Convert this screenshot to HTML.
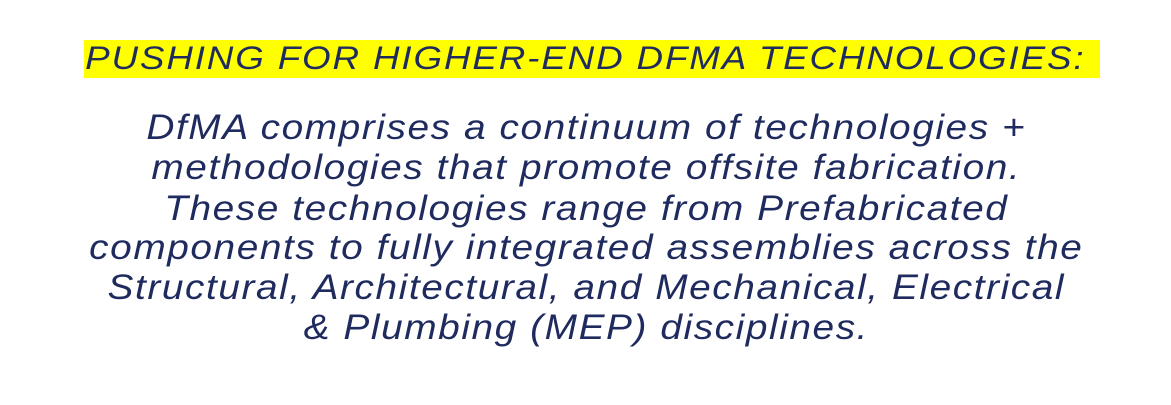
<!DOCTYPE html>
<html>
<head>
<meta charset="utf-8">
<style>
  html, body { margin:0; padding:0; background:#ffffff; }
  body { width:1171px; height:405px; position:relative; overflow:hidden;
         font-family:"Liberation Sans", sans-serif; color:#1f2b5e; }
  .hl { position:absolute; left:84px; top:40px; width:1016px; height:38px; background:#ffff00; }
  .title { position:absolute; left:0; width:1171px; top:38px; text-align:center;
           font-size:32px; font-style:italic; letter-spacing:1.6px; line-height:40px;
           transform:scaleX(1.15); transform-origin:587px 0; }
  .line { position:absolute; left:0; width:1171px; text-align:center;
          font-size:35px; font-style:italic; letter-spacing:1.4px; line-height:40px;
          transform:scaleX(1.11); transform-origin:578px 0; }
</style>
</head>
<body>
  <div class="hl"></div>
  <div class="title">PUSHING FOR HIGHER-END DFMA TECHNOLOGIES:</div>
  <div class="line" style="top:108px">DfMA comprises a continuum of technologies +</div>
  <div class="line" style="top:148px">methodologies that promote offsite fabrication.</div>
  <div class="line" style="top:189px">These technologies range from Prefabricated</div>
  <div class="line" style="top:228px">components to fully integrated assemblies across the</div>
  <div class="line" style="top:268px">Structural, Architectural, and Mechanical, Electrical</div>
  <div class="line" style="top:308px">&amp; Plumbing (MEP) disciplines.</div>
</body>
</html>
